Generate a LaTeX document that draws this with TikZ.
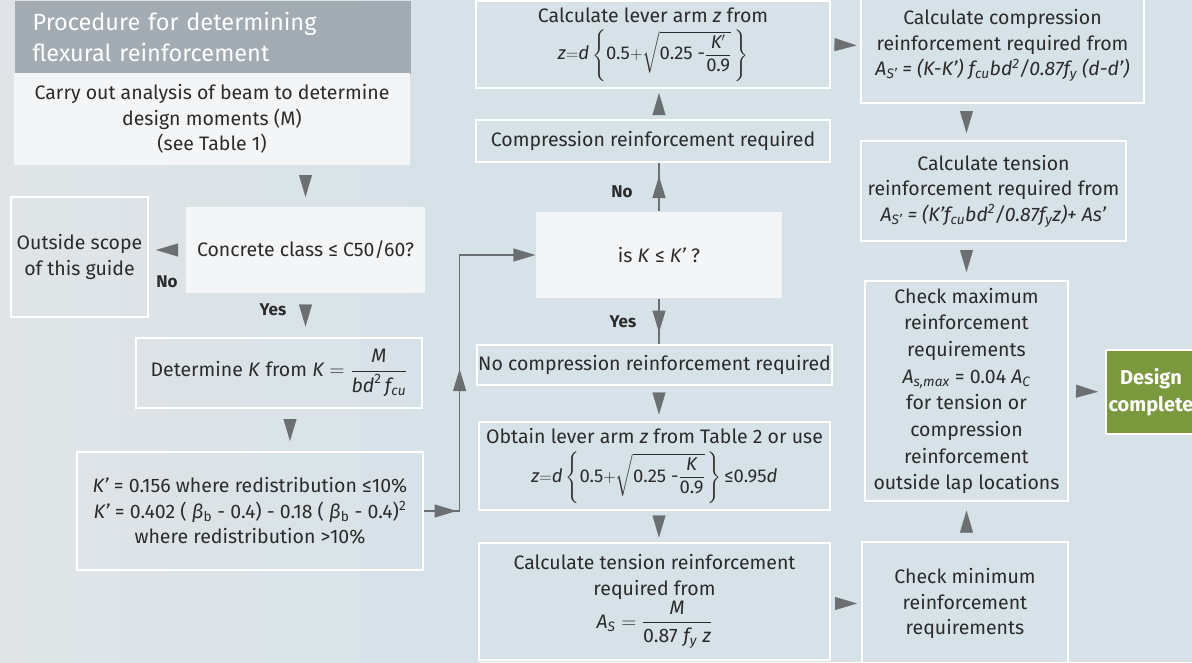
\documentclass[tikz,border=0pt]{standalone}
\usepackage{amsmath}
\usepackage{fontspec}
\setmainfont{Fira Sans}
\usetikzlibrary{arrows.meta,calc,decorations.markings}
\definecolor{INK}{HTML}{2B2B2B}
\definecolor{BG}{HTML}{D6E2E8}
\definecolor{BGL}{HTML}{E0E4E7}
\definecolor{TTL}{HTML}{A2ACB2}
\definecolor{PALE}{HTML}{F3F5F7}
\definecolor{ARR}{HTML}{6C6F72}
\definecolor{GREEN}{HTML}{7A983C}
\newcommand\nm[1]{\text{#1}}
\newcommand\fml{\fontsize{18.5}{20}\selectfont}

\begin{document}
\begin{tikzpicture}[x=1pt,y=-1pt]
\tikzset{>={Triangle[length=22pt,width=13pt]},
 box/.style={draw=white,line width=1.2pt,align=center,text=INK,inner sep=0pt,font=\fontsize{19.5}{25.5}\selectfont},
 pale/.style={box,fill=PALE,draw=none},
 tri/.style={ARR,decoration={markings,mark=at position 0.5 with {\arrow[xshift=11pt]{>}}},postaction=decorate},
 conn/.style={ARR,line width=1.3pt},lbl/.style={INK,font=\fontsize{17}{20}\selectfont\bfseries}}
\useasboundingbox (0,0) rectangle (1192,662);
\fill[BG] (0,0) rectangle (1192,662);
\shade[left color=BGL,right color=BG] (0,0) rectangle (480,662);
% left column
\node[box,fill=TTL,draw=none,text=white,align=left,text width=360pt,minimum width=396pt,minimum height=73pt,
 anchor=north west,font=\fontsize{23.5}{31}\selectfont] (title) at (14,0) {Procedure for determining\\flexural reinforcement};
\node[pale,minimum width=396pt,minimum height=92pt] (carry) at (212,119)
 {Carry out analysis of beam to determine\\design moments (M)\\(see Table 1)};
\node[pale,minimum width=239pt,minimum height=86pt] (concrete) at (305.5,250) {Concrete class ≤ C50/60?};
\node[box,minimum width=137pt,minimum height=120pt] (outside) at (79.5,257) {Outside scope\\of this guide};
\node[box,minimum width=286pt,minimum height=70pt] (detK) at (279,373)
 {Determine \textit{K} from \textit{K} $=\dfrac{\mathit{M}}{\mathit{bd}^{\nm{2}}\,\mathit{f}_{\mathit{cu}}}$};
\node[box,minimum width=346pt,minimum height=118pt] (kprime) at (250,511)
 {\textit{K'} = 0.156 where redistribution ≤10\%\\
  \textit{K'} = 0.402 ( \textit{β}\textsubscript{b} - 0.4) - 0.18 ( \textit{β}\textsubscript{b} - 0.4)\textsuperscript{2}\\
  where redistribution >10\%};
% middle column
\node[box,minimum width=354pt,minimum height=87pt] (lever) at (653,44.5)
 {Calculate lever arm \textit{z} from\\[6pt]
  {\fml$\mathit{z}{=}\mathit{d}\left\{\nm{0.5}{+}\sqrt{\nm{0.25 -}\dfrac{\mathit{K'}}{\nm{0.9}}}\,\right\}$}};
\node[box,minimum width=354pt,minimum height=42pt] (comp) at (653,141) {Compression reinforcement required};
\node[pale,minimum width=246pt,minimum height=86pt] (isK) at (659,255) {is \textit{K} ≤ \textit{K'} ?};
\node[box,minimum width=355pt,minimum height=40pt] (nocomp) at (654.5,365) {No compression reinforcement required};
\node[box,minimum width=351pt,minimum height=88pt] (obtain) at (654.5,466)
 {Obtain lever arm \textit{z} from Table 2 or use\\[7pt]
  {\fml$\mathit{z}{=}\mathit{d}\left\{\nm{0.5}{+}\sqrt{\nm{0.25 -}\dfrac{\mathit{K}}{\nm{0.9}}}\,\right\}\nm{≤0.95}\mathit{d}$}};
\node[box,minimum width=351pt,minimum height=117pt] (tens) at (654.5,601.5)
 {Calculate tension reinforcement\\required from\\
  $\mathit{A}_{\mathit{S}}=\dfrac{\mathit{M}}{\nm{0.87}\;\mathit{f}_{\mathit{y}}\;\mathit{z}}$};
% right column
\node[box,minimum width=283pt,minimum height=115pt] (ccomp) at (1002.5,45.5)
 {Calculate compression\\reinforcement required from\\
  \textit{A\textsubscript{S'} = (K-K') f\textsubscript{cu}bd\textsuperscript{2}/0.87f\textsubscript{y} (d-d')}};
\node[box,minimum width=265pt,minimum height=100pt] (ctens) at (993.5,191)
 {Calculate tension\\reinforcement required from\\
  \textit{A\textsubscript{S'} = (K'f\textsubscript{cu}bd\textsuperscript{2}/0.87f\textsubscript{y}z)+ As'}};
\node[box,minimum width=203pt,minimum height=220pt,font=\fontsize{19.5}{26.7}\selectfont] (cmax) at (966.5,391)
 {Check maximum\\reinforcement\\requirements\\\textit{A}\textsubscript{\textit{s,max}} = 0.04 \textit{A\textsubscript{C}}\\
  for tension or\\compression\\reinforcement\\outside lap locations};
\node[box,minimum width=206pt,minimum height=123pt] (cmin) at (965,603.5) {Check minimum\\reinforcement\\requirements};
\node[box,fill=GREEN,text=white,minimum width=90pt,minimum height=84pt,font=\fontsize{20}{27}\selectfont\bfseries] (done) at (1151,392)
 {Design\\complete};
% connectors
\path[tri] (concrete.north |- carry.south) -- (concrete.north);
\path[tri] (concrete.west) -- (outside.east |- concrete.west);
\path[tri] (concrete.south) -- (concrete.south |- detK.north);
\path[tri] ([xshift=11pt]detK.south) -- ([xshift=11pt]detK.south |- kprime.north);
\draw[conn,->,decoration={markings,mark=at position 33pt with {\arrow{>}},mark=at position 178pt with {\arrow{>}}},
 postaction=decorate] (kprime.east) -- ++(36,0) |- (isK.west);
\draw[conn,decoration={markings,mark=at position 0.5 with {\arrow[xshift=11pt]{>}}},postaction=decorate]
 (isK.north) -- (isK.north |- comp.south);
\draw[conn,decoration={markings,mark=at position 0.5 with {\arrow[xshift=11pt]{>}}},postaction=decorate]
 (isK.south) -- (isK.south |- nocomp.north);
\path[tri] (isK.north |- comp.north) -- (isK.north |- lever.south);
\path[tri] (isK.south |- nocomp.south) -- (isK.south |- obtain.north);
\path[tri] (isK.south |- obtain.south) -- (isK.south |- tens.north);
\path[tri] (lever.east) -- (ccomp.west);
\path[tri] (cmax.north |- ccomp.south) -- (cmax.north |- ctens.north);
\path[tri] (cmax.north |- ctens.south) -- (cmax.north);
\path[tri] (cmax.south |- cmin.north) -- (cmax.south);
\path[tri] (cmax.east) -- (done.west);
\path[tri] (cmin.west -| tens.east) -- (cmin.west);
% labels
\node[lbl] (no1) at (167,282) {No};
\node[lbl] (yes1) at (273,310) {Yes};
\node[lbl] (no2) at (622,192) {No};
\node[lbl] (yes2) at (623,322) {Yes};
\end{tikzpicture}
\end{document}
